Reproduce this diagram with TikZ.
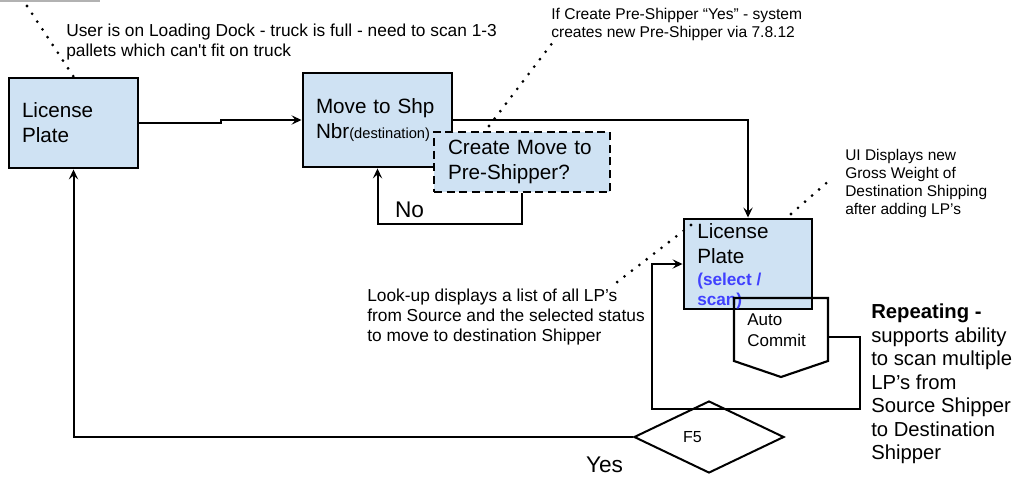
\documentclass[tikz,border=0pt]{standalone}
\usepackage{fontspec}
\usepackage{tikz}
\usetikzlibrary{arrows.meta,shapes.geometric}
\newfontfamily\arialfont{Liberation Sans}
\definecolor{boxblue}{HTML}{CFE2F3}
\definecolor{selblue}{RGB}{64,64,255}
\newcommand{\boxfont}{\arialfont\fontsize{15.5}{18.75}\selectfont}
\newcommand{\notefont}{\arialfont\fontsize{13}{15}\selectfont}
\newcommand{\smallnote}{\arialfont\fontsize{11.7}{13.8}\selectfont}
\newcommand{\repfont}{\arialfont\fontsize{15.2}{17.6}\selectfont}

\begin{document}
\begin{tikzpicture}[x=0.75pt,y=-0.75pt,>={Stealth[length=7.5pt,width=7pt,inset=3pt]},
  box/.style={draw,line width=2.2pt,fill=boxblue,inner ysep=0pt,align=left,font=\boxfont},
  flow/.style={->,line width=1.5pt},
  dots/.style={line width=2.3pt,line cap=round,dash pattern=on 0pt off 7pt},
  txt/.style={inner sep=0pt,align=left,anchor=north west}]
\useasboundingbox (0,0) rectangle (1019,481);
\draw[black!30,line width=1.2pt] (0,1) -- (100,1);

\node[box,inner xsep=9.75pt,text width=77.25pt,minimum height=67.5pt] (lp) at (73.5,123) {License\\Plate};
\node[box,inner xsep=9.75pt,text width=92.25pt,minimum height=70.5pt] (move) at (377.5,120)
  {Move to Shp\\Nbr{\arialfont\fontsize{11}{13}\selectfont(destination)}};
\node[box,dash pattern=on 6pt off 3.5pt,inner xsep=10.5pt,text width=111pt,minimum height=45pt] (premove) at (522,162)
  {Create Move to\\Pre-Shipper?};
\node[box,minimum width=96pt,minimum height=67.5pt] (lpscan) at (748,264) {};
\node[txt,font=\boxfont] (lpscantext) at (697,223) {License\\Plate};
\node[txt,font=\arialfont\bfseries\fontsize{12.9}{15}\selectfont,text=selblue] (lpscansel) at (697,273) {(select /\\scan)};

\draw[line width=1.6pt] (734,298) -- (828,298) -- (828,361) -- (781,377) -- (734,361) -- cycle;
\coordinate (acright) at (828,337);
\node[txt,font=\arialfont\fontsize{12.75}{15.75}\selectfont] (autocommit) at (747,313.5) {Auto\\Commit};

\node[diamond,draw,line width=1.5pt,minimum width=112.5pt,minimum height=54pt,inner sep=0pt] (ffive) at (709,437) {};
\node[font=\arialfont\fontsize{12}{14}\selectfont,inner sep=0pt] (ffivetext) at (692.5,437) {F5};

\draw[flow] (lp.east) -- ++(82,0) |- (move.west);
\draw[flow] (move.east) -| (lpscan.north);
\draw[flow] (premove.south) -- ++(0,31) -| (move.south);
\node[font=\arialfont\fontsize{17}{20}\selectfont,inner sep=0pt,anchor=base] (nolabel) at (409.5,217) {No};
\coordinate (loopcorner) at (652,409);
\draw[flow] (acright) -- ++(32,0) |- (loopcorner) |- (lpscan.west);
\draw[flow] (ffive.west) -| (lp.south);
\node[font=\arialfont\fontsize{17}{20}\selectfont,inner sep=0pt,anchor=base] (yeslabel) at (604.5,472) {Yes};

\coordinate (usertip) at (27,6);
\coordinate (createtip) at (553,42);
\coordinate (createfoot) at (489,126);
\coordinate (uitip) at (831,179);
\coordinate (uifoot) at (791,214);
\coordinate (lookuptip) at (616,283);
\coordinate (lookupfoot) at (691,225);
\draw[dots] (usertip) -- (lp.north);
\draw[dots] (createfoot) -- (createtip);
\draw[dots] (uifoot) -- (uitip);
\draw[dots] (lookupfoot) -- (lookuptip);

\node[txt,font=\notefont] (usernote) at (66,24)
  {User is on Loading Dock - truck is full - need to scan 1-3\\pallets which can't fit on truck};
\node[txt,font=\smallnote] (createnote) at (551,8)
  {If Create Pre-Shipper “Yes” - system\\creates new Pre-Shipper via 7.8.12};
\node[txt,font=\arialfont\fontsize{11.6}{13.5}\selectfont] (uinote) at (845,149)
  {UI Displays new\\Gross Weight of\\Destination Shipping\\after adding LP’s};
\node[txt,font=\notefont] (lookupnote) at (367,289)
  {Look-up displays a list of all LP’s\\from Source and the selected status\\to move to destination Shipper};
\node[txt,font=\repfont] (repeatnote) at (871,304)
  {{\bfseries Repeating -}\\supports ability\\to scan multiple\\LP’s from\\Source Shipper\\to Destination\\Shipper};
\end{tikzpicture}
\end{document}
